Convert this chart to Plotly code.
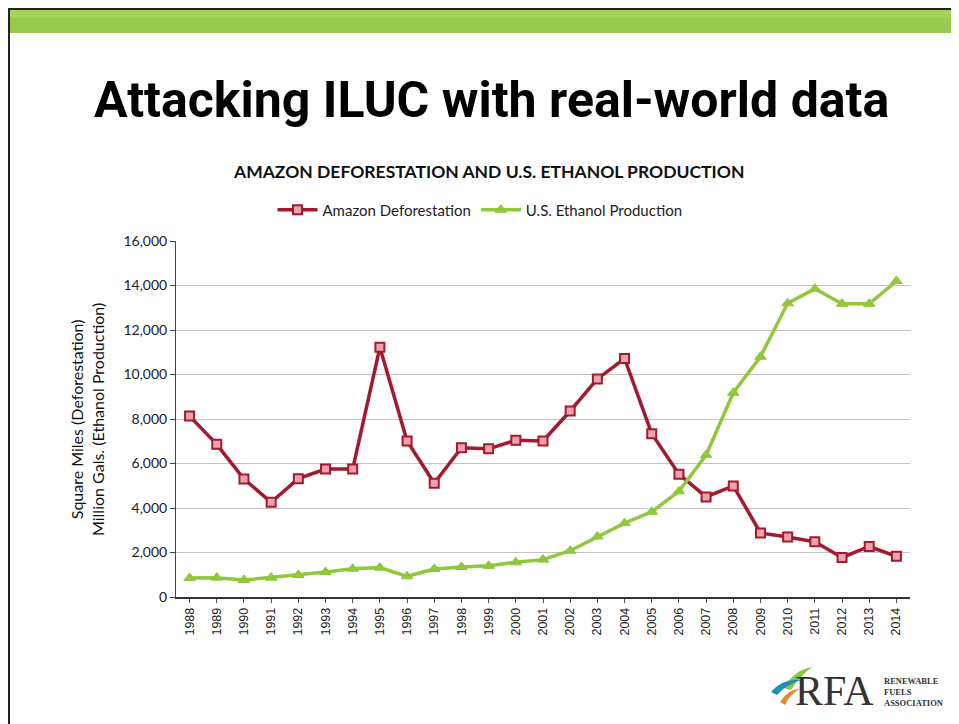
import plotly.graph_objects as go

years = list(range(1988, 2015))
deforestation = [8130, 6860, 5300, 4260, 5320, 5750, 5750, 11220, 7010, 5110, 6710,
                 6660, 7040, 7010, 8360, 9800, 10720, 7340, 5520, 4500, 4990, 2880,
                 2700, 2480, 1770, 2270, 1830]
ethanol = [850, 870, 760, 870, 990, 1120, 1270, 1320, 930, 1260, 1350, 1400, 1560,
           1680, 2080, 2720, 3320, 3830, 4750, 6380, 9180, 10800, 13200, 13850,
           13180, 13180, 14200]
y_ticks = list(range(0, 16001, 2000))

# page is drawn with an 8px body margin, so the figure is 8px smaller
OFF = 8
W, H = 959 - OFF, 724 - OFF
# plot area in page pixels
L, R, T, B = 176, 910, 241, 597


def px(x):
    return (x - L) / (R - L)


def py(y):
    return (B - y) / (B - T)


fig = go.Figure()

fig.add_trace(go.Scatter(
    x=years, y=deforestation, mode='lines+markers', name='Amazon Deforestation',
    line=dict(color='#A3192D', width=3.5),
    marker=dict(symbol='square', size=9, color='#EBA3AE',
                line=dict(color='#A3192D', width=2))
))

fig.add_trace(go.Scatter(
    x=years, y=ethanol, mode='lines+markers', name='U.S. Ethanol Production',
    line=dict(color='#92C83E', width=3.5),
    marker=dict(symbol='triangle-up', size=10, color='#92C83E',
                line=dict(color='#8CC43A', width=1))
))

shapes = [
    # green band at top of slide
    dict(type='rect', xref='paper', yref='paper', x0=px(8), x1=px(970),
         y0=py(33), y1=py(9), fillcolor='#97CB4D', line=dict(width=0), layer='below'),
    dict(type='rect', xref='paper', yref='paper', x0=px(8), x1=px(970),
         y0=py(18), y1=py(9), fillcolor='#A5D25B', line=dict(width=0), layer='below'),
    # slide border
    dict(type='line', xref='paper', yref='paper', x0=px(8), x1=px(970),
         y0=py(9), y1=py(9), line=dict(color='#222222', width=2)),
    dict(type='line', xref='paper', yref='paper', x0=px(9), x1=px(9),
         y0=py(8), y1=py(740), line=dict(color='#222222', width=2)),
    # logo swooshes
    dict(type='path', xref='paper', yref='paper',
         path=f'M {px(784)},{py(688)} Q {px(794)},{py(670)} {px(812)},{py(667)} '
              f'Q {px(800)},{py(676)} {px(791)},{py(690)} Z',
         fillcolor='#8DC63F', line=dict(width=0)),
    dict(type='path', xref='paper', yref='paper',
         path=f'M {px(771)},{py(692)} Q {px(783)},{py(678)} {px(801)},{py(680)} '
              f'Q {px(787)},{py(684)} {px(777)},{py(695)} Z',
         fillcolor='#1F8FB8', line=dict(width=0)),
    dict(type='path', xref='paper', yref='paper',
         path=f'M {px(780)},{py(702)} Q {px(788)},{py(689)} {px(800)},{py(689)} '
              f'Q {px(790)},{py(694)} {px(785)},{py(705)} Z',
         fillcolor='#E58A2E', line=dict(width=0)),
]

annotations = [
    dict(text='<b>Attacking ILUC with real-world data</b>', xref='paper', yref='paper',
         x=px(491), y=py(100), showarrow=False, xanchor='center', yanchor='middle',
         font=dict(family='Roboto, DejaVu Sans', size=50, color='#000000')),
    dict(text='<b>AMAZON DEFORESTATION AND U.S. ETHANOL PRODUCTION</b>', xref='paper',
         yref='paper', x=px(488), y=py(172), showarrow=False, xanchor='center',
         yanchor='middle', font=dict(family='Lato, Noto Sans', size=17.5,
                                     color='#111111')),
    dict(text='Square Miles (Deforestation)<br>Million Gals. (Ethanol Production)',
         xref='paper', yref='paper', x=px(87), y=py(420), showarrow=False,
         textangle=-90, xanchor='center', yanchor='middle',
         font=dict(family='Lato, Noto Sans', size=16, color='#111111')),
    dict(text='RFA', xref='paper', yref='paper', x=px(793), y=py(691), showarrow=False,
         xanchor='left', yanchor='middle',
         font=dict(family='Liberation Serif, DejaVu Serif', size=42, color='#333333')),
    dict(text='<b>RENEWABLE<br>FUELS<br>ASSOCIATION</b>', xref='paper', yref='paper',
         x=px(882), y=py(692), showarrow=False, xanchor='left', yanchor='middle',
         align='left',
         font=dict(family='Liberation Serif, DejaVu Serif', size=8.5, color='#333333')),
]

fig.update_layout(
    width=W, height=H,
    margin=dict(l=L - OFF, r=W - (R - OFF), t=T - OFF, b=H - (B - OFF)),
    paper_bgcolor='white', plot_bgcolor='white',
    showlegend=True,
    legend=dict(orientation='h', x=px(480), y=py(210), xanchor='center',
                yanchor='middle', font=dict(family='Lato, Noto Sans', size=15,
                                            color='#222222'),
                itemwidth=40, tracegroupgap=20),
    xaxis=dict(range=[1987.5, 2014.5], tickmode='array', tickvals=years,
               ticktext=[str(y) for y in years], tickangle=-90,
               showgrid=False, showline=True, linecolor='#333333', linewidth=1.5,
               ticks='outside', ticklen=4, tickcolor='#555555',
               tickfont=dict(family='Liberation Sans, Arial', size=12.5,
                             color='#222222')),
    yaxis=dict(range=[0, 16000], tickmode='array', tickvals=y_ticks,
               ticktext=[f'{v:,}' for v in y_ticks], showgrid=True,
               gridcolor='#C4C4C4', gridwidth=1, showline=True, linecolor='#444444',
               linewidth=1, ticks='outside', ticklen=5, tickcolor='#444444',
               zeroline=False,
               tickfont=dict(family='Lato, Noto Sans', size=14, color='#222222')),
    shapes=shapes,
    annotations=annotations,
)

fig.write_html("out.html")
